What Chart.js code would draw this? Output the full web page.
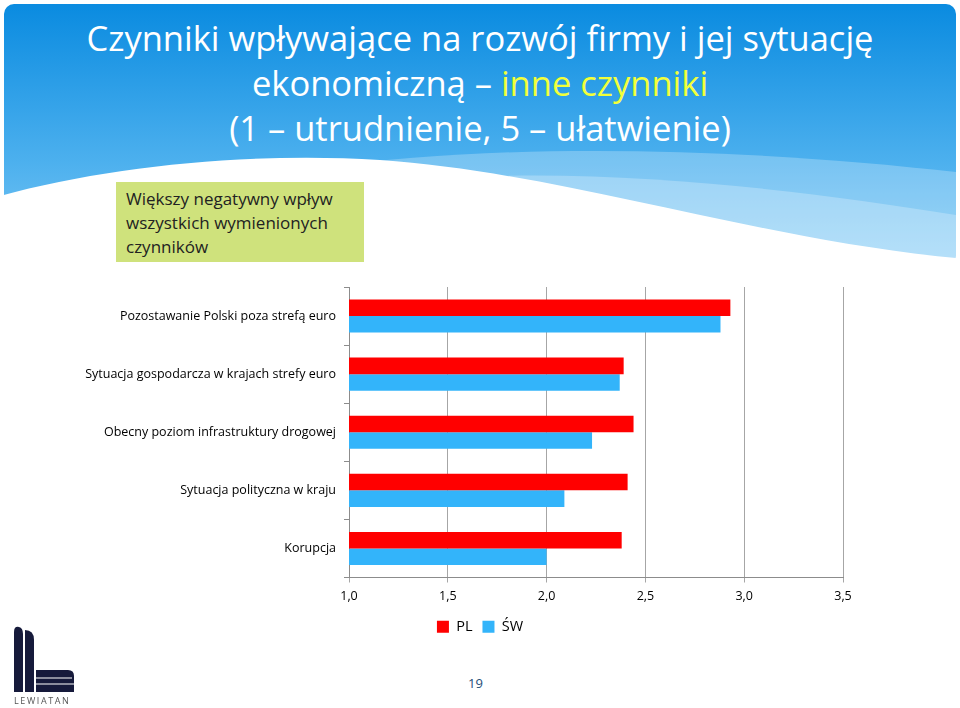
<!DOCTYPE html>
<html lang="pl">
<head>
    <meta charset="UTF-8">
    <title>Czynniki wpływające na rozwój firmy</title>
    <style>
        body {
            margin: 0;
            width: 960px;
            height: 708px;
            position: relative;
            overflow: hidden;
            background: #fff;
            font-family: "Open Sans", sans-serif;
        }
        #bg {
            position: absolute;
            left: 0;
            top: 0;
        }
        #title {
            position: absolute;
            left: 0;
            top: 15px;
            width: 960px;
            text-align: center;
            color: #fff;
            font-size: 34.5px;
            line-height: 45px;
        }
        #title .hl { color: #f2ff3a; }
        #note {
            position: absolute;
            left: 116px;
            top: 182px;
            width: 248px;
            height: 80px;
            padding-left: 10px;
            background: #cfe27c;
            color: #222;
            font-size: 17px;
            line-height: 24px;
            padding-top: 5px;
            box-sizing: border-box;
        }
        #chart-box {
            position: absolute;
            left: 0;
            top: 270px;
        }
        #page {
            position: absolute;
            left: 468px;
            top: 674px;
            font-size: 13px;
            color: #1f4e79;
        }
        #logo {
            position: absolute;
            left: 0;
            top: 620px;
        }
    </style>
    <script src="https://cdn.jsdelivr.net/npm/chart.js"></script>
</head>
<body>
    <svg id="bg" width="960" height="280">
        <defs>
            <linearGradient id="g1" x1="0" y1="0" x2="0" y2="1">
                <stop offset="0" stop-color="#0a8be0"/>
                <stop offset="0.6" stop-color="#4cb0ee"/>
                <stop offset="1" stop-color="#7fc9f5"/>
            </linearGradient>
        </defs>
        <rect x="4" y="4" width="952" height="262" rx="10" fill="url(#g1)"/>
        <path d="M320,168 C520,140 760,150 956,172 V262 H320 Z" fill="#fff" opacity="0.25"/>
        <path d="M420,180 C600,165 800,190 956,215 V262 H420 Z" fill="#fff" opacity="0.25"/>
        <path d="M0,196 C110,166 250,152 380,160 C560,172 760,240 956,258 V280 H0 Z" fill="#fff"/>
    </svg>

    <div id="title">
        Czynniki wpływające na rozwój firmy i jej sytuację<br>
        ekonomiczną – <span class="hl">inne czynniki</span><br>
        (1 – utrudnienie, 5 – ułatwienie)
    </div>

    <div id="note">Większy negatywny wpływ<br>wszystkich wymienionych<br>czynników</div>

    <div id="chart-box">
        <canvas id="barChart" width="960" height="374"></canvas>
    </div>

    <svg id="logo" width="90" height="88">
        <path d="M14,12 Q14,6 19,7 Q23,8 23,14 V72 H14 Z" fill="#161a3b"/>
        <path d="M25,10 Q34,10 34,20 V72 H25 Z" fill="#161a3b"/>
        <path d="M36,50 H68 Q74,50 74,56 V72 H36 Z" fill="#161a3b"/>
        <path d="M36,58 H72" stroke="#fff" stroke-width="1.2"/>
        <path d="M36,64 H74" stroke="#fff" stroke-width="1.2"/>
        <text x="14" y="84" font-size="9" fill="#555" letter-spacing="1.6" font-family="Open Sans">LEWIATAN</text>
    </svg>

    <div id="page">19</div>

    <script>
        // dane wykresu
        const categories = [
            'Pozostawanie Polski poza strefą euro',
            'Sytuacja gospodarcza w krajach strefy euro',
            'Obecny poziom infrastruktury drogowej',
            'Sytuacja polityczna w kraju',
            'Korupcja'
        ];
        const valuesPL = [2.93, 2.39, 2.44, 2.41, 2.38];
        const valuesSW = [2.88, 2.37, 2.23, 2.09, 2.00];
        const xTicks = [1.0, 1.5, 2.0, 2.5, 3.0, 3.5];

        // legenda wyśrodkowana na całej szerokości płótna
        const legendFullWidth = {
            id: 'legendFullWidth',
            afterLayout(chart) {
                const lg = chart.legend;
                if (!lg) return;
                lg.left = 0;
                lg.right = chart.width;
                lg.width = chart.width;
            }
        };

        function createBarChart() {
            const ctx = document.getElementById('barChart').getContext('2d');
            new Chart(ctx, {
                type: 'bar',
                data: {
                    labels: categories,
                    datasets: [
                        {
                            label: 'PL',
                            data: valuesPL,
                            backgroundColor: '#ff0000',
                            categoryPercentage: 0.57,
                            barPercentage: 1.0
                        },
                        {
                            label: 'ŚW',
                            data: valuesSW,
                            backgroundColor: '#33b4fa',
                            categoryPercentage: 0.57,
                            barPercentage: 1.0
                        }
                    ]
                },
                options: {
                    indexAxis: 'y',
                    responsive: false,
                    animation: false,
                    layout: {
                        padding: { top: 17, right: 117, left: 0, bottom: 0 }
                    },
                    scales: {
                        x: {
                            min: xTicks[0],
                            max: xTicks[xTicks.length - 1],
                            afterBuildTicks: scale => {
                                scale.ticks = xTicks.map(v => ({ value: v }));
                            },
                            ticks: {
                                callback: v => Number(v).toFixed(1).replace('.', ','),
                                font: { family: 'Open Sans', size: 12.5 },
                                color: '#000',
                                padding: 6
                            },
                            grid: {
                                color: '#a6a6a6',
                                tickLength: 5
                            },
                            border: { color: '#8c8c8c' },
                            afterFit: scale => { scale.height = 32; }
                        },
                        y: {
                            ticks: {
                                font: { family: 'Open Sans', size: 12.5 },
                                color: '#000',
                                padding: 8
                            },
                            grid: {
                                drawOnChartArea: false,
                                tickLength: 5,
                                color: '#8c8c8c'
                            },
                            border: { color: '#8c8c8c' },
                            afterFit: scale => { scale.width = 349; }
                        }
                    },
                    plugins: {
                        legend: {
                            position: 'bottom',
                            labels: {
                                boxWidth: 12,
                                boxHeight: 12,
                                padding: 10,
                                color: '#000',
                                font: { family: 'Open Sans', size: 14.5 }
                            }
                        },
                        tooltip: { enabled: false }
                    }
                },
                plugins: [legendFullWidth]
            });
        }

        createBarChart();
    </script>
</body>
</html>
